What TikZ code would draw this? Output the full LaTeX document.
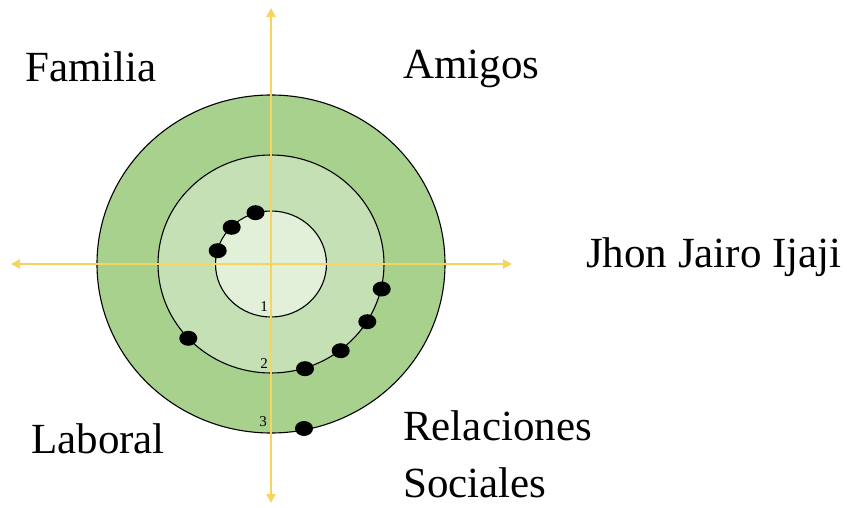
\documentclass[tikz,border=0pt]{standalone}
\usepackage{fontspec}
\setmainfont{Liberation Serif}
\usetikzlibrary{arrows.meta,shapes.geometric}
\definecolor{ringA}{HTML}{A9D18E}
\definecolor{ringB}{HTML}{C5E0B4}
\definecolor{ringC}{HTML}{E2F0D9}
\definecolor{axisY}{RGB}{249,212,92}
\begin{document}
\begin{tikzpicture}[x=1pt,y=-1pt,
  ring/.style={ellipse,draw=black,line width=1.1pt,inner sep=0pt},
  axisline/.style={draw=axisY,line width=2pt,-{Triangle[length=9pt,width=9pt]}},
  dot/.style={ellipse,fill=black,inner sep=0pt,minimum width=18pt,minimum height=15pt},
  lab/.style={font=\fontsize{43}{50}\selectfont,inner sep=0pt,anchor=base west},
  num/.style={font=\fontsize{15}{17}\selectfont,inner sep=0pt}]
\path[use as bounding box,fill=white] (0,0) rectangle (847,508);
% rings
\node[ring,fill=ringA,minimum width=348pt,minimum height=338pt] (outer) at (271,264) {};
\node[ring,fill=ringB,minimum width=226pt,minimum height=218pt] (middle) at (271,264) {};
\node[ring,fill=ringC,minimum width=111pt,minimum height=106pt] (inner) at (271,264) {};
% axes
\coordinate (c) at (271,264);
\coordinate (top) at (271,8);
\coordinate (bot) at (271,503);
\coordinate (lft) at (11,264);
\coordinate (rgt) at (512,264);
\draw[axisline] (c) -- (top);
\draw[axisline] (c) -- (bot);
\draw[axisline] (c) -- (lft);
\draw[axisline] (c) -- (rgt);
% numbers
\node[num] (n1) at (264,307) {1};
\node[num] (n2) at (264,364) {2};
\node[num] (n3) at (263,422) {3};
% dots
\node[dot] (d1) at (255.5,212.7) {};
\node[dot] (d2) at (231.7,227.3) {};
\node[dot] (d3) at (217.7,250.7) {};
\node[dot] (d4) at (381.7,289) {};
\node[dot] (d5) at (367.3,321.7) {};
\node[dot] (d6) at (340.7,350.7) {};
\node[dot] (d7) at (305,368.7) {};
\node[dot] (d8) at (188.3,338.3) {};
\node[dot] (d9) at (304,428.5) {};
% labels
\node[lab] (fam) at (25,82) {Familia};
\node[lab] (ami) at (403,79) {Amigos};
\node[lab] (jho) at (586,268) {Jhon Jairo Ijaji};
\node[lab] (lab) at (31,453) {Laboral};
\node[lab] (rel) at (403,440) {Relaciones};
\node[lab] (soc) at (403,497) {Sociales};
\end{tikzpicture}
\end{document}
